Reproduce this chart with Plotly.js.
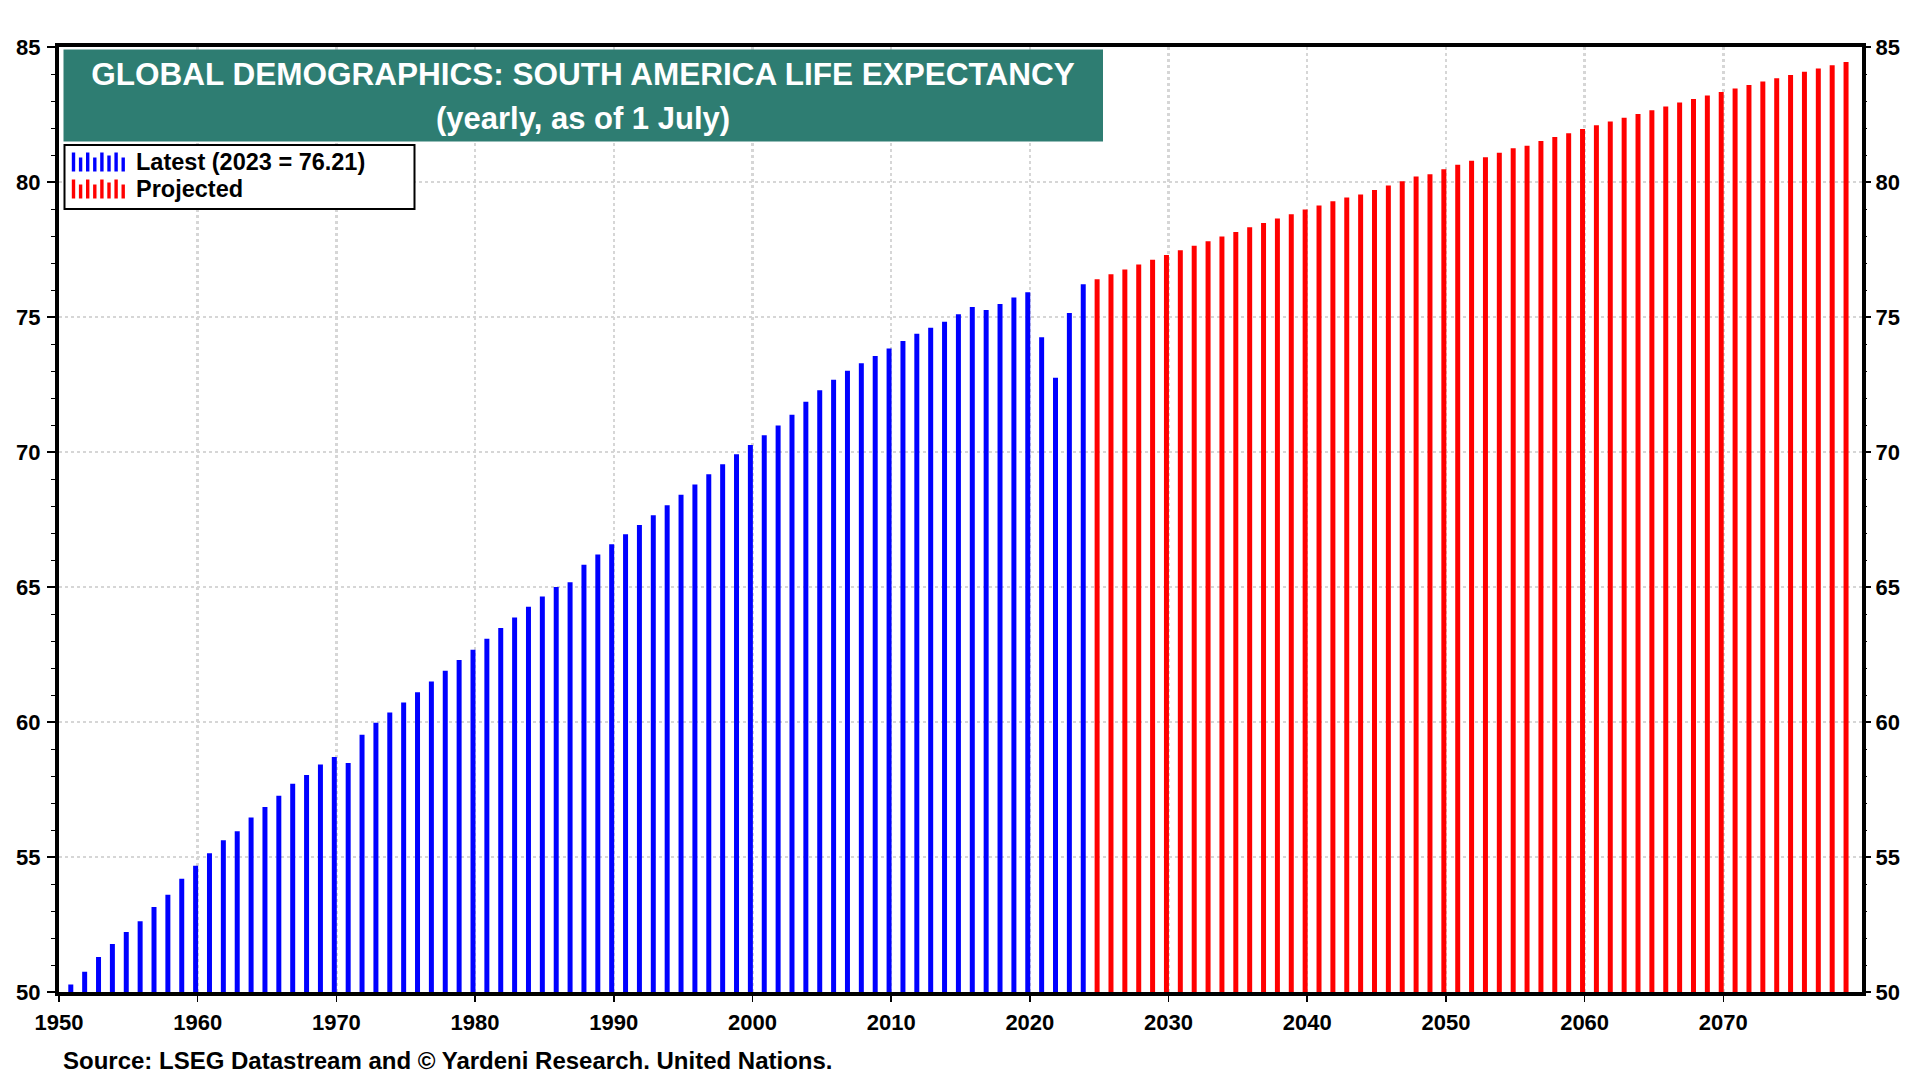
<!DOCTYPE html>
<html><head><meta charset="utf-8">
<script src="https://cdn.plot.ly/plotly-3.0.1.min.js"></script>
<style>html,body{margin:0;padding:0;background:#fff}#chart{width:1920px;height:1080px}</style>
</head><body><div id="chart"></div>
<script>
// ---------- DATA ----------
const latestStartYear = 1950;
const latestValues = [
  50.28, 50.75, 51.30, 51.78, 52.22, 52.62, 53.15, 53.60, 54.19, 54.68,
  55.14, 55.62, 55.95, 56.46, 56.85, 57.27, 57.71, 58.04, 58.43, 58.70,
  58.48, 59.53, 59.97, 60.35, 60.72, 61.10, 61.50, 61.90, 62.30, 62.68,
  63.08, 63.48, 63.87, 64.27, 64.65, 65.00, 65.18, 65.82, 66.20, 66.58,
  66.95, 67.30, 67.66, 68.03, 68.42, 68.80, 69.18, 69.55, 69.92, 70.26,
  70.62, 70.98, 71.38, 71.86, 72.29, 72.68, 73.01, 73.29, 73.56, 73.83,
  74.11, 74.38, 74.60, 74.82, 75.10, 75.37, 75.26, 75.48, 75.72, 75.92,
  74.25, 72.75, 75.15, 76.21
];
const projectedStartYear = 2024;
const projectedValues = [
  76.40, 76.58, 76.76, 76.94, 77.12, 77.30, 77.47, 77.64, 77.81, 77.98,
  78.15, 78.32, 78.48, 78.65, 78.81, 78.98, 79.13, 79.29, 79.43, 79.54,
  79.70, 79.87, 80.03, 80.20, 80.29, 80.47, 80.64, 80.79, 80.92, 81.08,
  81.25, 81.34, 81.52, 81.67, 81.81, 81.96, 82.10, 82.24, 82.38, 82.52,
  82.66, 82.80, 82.94, 83.07, 83.20, 83.33, 83.46, 83.59, 83.72, 83.84,
  83.96, 84.08, 84.20, 84.32, 84.44
];
const yTicks = [50, 55, 60, 65, 70, 75, 80, 85];
const xTicks = [1950, 1960, 1970, 1980, 1990, 2000, 2010, 2020, 2030, 2040, 2050, 2060, 2070];
const xTickLabels = ['1950','1960','1970','1980','1990','2000','2010','2020','2030','2040','2050','2060','2070'];
const titleText = 'GLOBAL DEMOGRAPHICS: SOUTH AMERICA LIFE EXPECTANCY';
const subtitleText = '(yearly, as of 1 July)';
const legendLabels = ['Latest (2023 = 76.21)', 'Projected'];
const sourceText = 'Source: LSEG Datastream and © Yardeni Research. United Nations.';

// ---------- STYLE / GEOMETRY ----------
const BLUE = '#0000ff', RED = '#ff0000', TEAL = '#2e7d72';
const FONT = 'Liberation Sans, Arial, Helvetica, sans-serif';
const barOffset = 0.85;   // bars sit late in each year on the time axis
const barWidth = 0.36;
const M = {l: 59, r: 58, t: 47, b: 88};
const W = 1920, H = 1080;
const PW = W - M.l - M.r, PH = H - M.t - M.b;
const px = x => (x - M.l) / PW;
const py = y => 1 - (y - M.t) / PH;

const latestYears = latestValues.map((_, i) => latestStartYear + i);
const projectedYears = projectedValues.map((_, i) => projectedStartYear + i);

const traces = [
  {type: 'bar', x: latestYears.map(y => y + barOffset), y: latestValues, width: barWidth,
   marker: {color: BLUE, line: {width: 0}}, name: legendLabels[0], showlegend: false, hoverinfo: 'x+y'},
  {type: 'bar', x: projectedYears.map(y => y + barOffset), y: projectedValues, width: barWidth,
   marker: {color: RED, line: {width: 0}}, name: legendLabels[1], showlegend: false, yaxis: 'y2', hoverinfo: 'x+y'}
];

const tickFont = {family: FONT, size: 22, color: '#000', weight: 'bold'};
const gridStyle = {showgrid: true, gridcolor: '#d6d6d6', griddash: 'dot', gridwidth: 2.5};

const shapes = [];
// title box
shapes.push({type: 'rect', xref: 'paper', yref: 'paper', x0: px(63.5), x1: px(1103), y0: py(141.5), y1: py(49.5),
  fillcolor: TEAL, line: {width: 0}, layer: 'above'});
// legend box
shapes.push({type: 'rect', xref: 'paper', yref: 'paper', x0: px(64.5), x1: px(414.5), y0: py(209), y1: py(145),
  fillcolor: '#fff', line: {width: 2, color: '#000'}, layer: 'above'});
// legend icons (mini bars)
const iconHeights = [19, 14, 19, 14, 19, 16, 19, 14];
const iconBottoms = [171.5, 198.5];
const iconColors = [BLUE, RED];
iconBottoms.forEach((b, r) => {
  iconHeights.forEach((h, i) => {
    const cx = 73.5 + i * 7.1;
    shapes.push({type: 'rect', xref: 'paper', yref: 'paper', x0: px(cx - 1.7), x1: px(cx + 1.7),
      y0: py(b), y1: py(b - h), fillcolor: iconColors[r], line: {width: 0}, layer: 'above'});
  });
});

const annotations = [
  {text: '<b>' + subtitleText + '</b>', xref: 'paper', yref: 'paper', x: px(583), y: py(118),
   xanchor: 'center', yanchor: 'middle', showarrow: false, font: {family: FONT, size: 31, color: '#fff'}},
  {text: '<b>' + legendLabels[0] + '</b>', xref: 'paper', yref: 'paper', x: px(134), y: py(162),
   xanchor: 'left', yanchor: 'middle', showarrow: false, font: {family: FONT, size: 23.5, color: '#000'}},
  {text: '<b>' + legendLabels[1] + '</b>', xref: 'paper', yref: 'paper', x: px(134), y: py(189),
   xanchor: 'left', yanchor: 'middle', showarrow: false, font: {family: FONT, size: 23.5, color: '#000'}},
  {text: '<b>' + sourceText + '</b>', xref: 'paper', yref: 'paper', x: px(61), y: py(1060),
   xanchor: 'left', yanchor: 'middle', showarrow: false, font: {family: FONT, size: 24, color: '#000'}}
];

const layout = {
  width: W, height: H,
  margin: M,
  paper_bgcolor: '#fff', plot_bgcolor: '#fff',
  barmode: 'overlay',
  showlegend: false,
  title: {text: '<b>' + titleText + '</b>', x: px(583), xanchor: 'center', xref: 'paper',
          y: 1 - 73.5 / H, yanchor: 'middle', yref: 'container',
          font: {family: FONT, size: 31.5, color: '#fff'}},
  xaxis: Object.assign({
    range: [1950, 2080], tickmode: 'array', tickvals: xTicks, ticktext: xTickLabels,
    ticks: 'outside', ticklen: 6, tickwidth: 1.5, tickcolor: '#000',
    showline: true, linewidth: 4, linecolor: '#000', mirror: true, zeroline: false,
    tickfont: tickFont, ticklabelstandoff: 2
  }, gridStyle),
  yaxis: Object.assign({
    range: [50, 85], tickmode: 'array', tickvals: yTicks,
    ticks: 'outside', ticklen: 8, tickwidth: 1.5, tickcolor: '#000',
    minor: {dtick: 1, ticks: 'outside', ticklen: 4, tickwidth: 1, tickcolor: '#000', showgrid: false},
    showline: true, linewidth: 4, linecolor: '#000', mirror: true, zeroline: false,
    tickfont: tickFont, ticklabelstandoff: 2
  }, gridStyle),
  yaxis2: {
    range: [50, 85], overlaying: 'y', side: 'right', tickmode: 'array', tickvals: yTicks,
    ticks: 'outside', ticklen: 8, tickwidth: 1.5, tickcolor: '#000',
    minor: {dtick: 1, ticks: 'outside', ticklen: 4, tickwidth: 1, tickcolor: '#000', showgrid: false},
    showgrid: false, showline: false, zeroline: false,
    tickfont: tickFont, ticklabelstandoff: 0
  },
  shapes: shapes,
  annotations: annotations
};

Plotly.newPlot('chart', traces, layout, {displayModeBar: false, staticPlot: true});
</script>
</body></html>
